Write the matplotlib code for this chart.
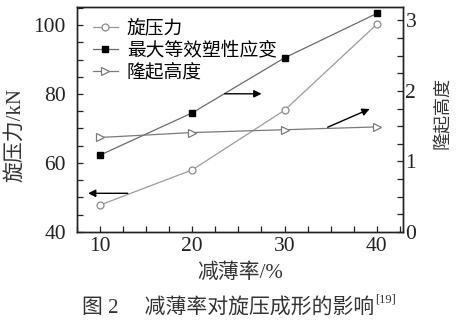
import matplotlib
matplotlib.use("Agg")
import matplotlib.pyplot as plt
from matplotlib.ticker import MultipleLocator

plt.rcParams['font.family'] = ['Liberation Serif', 'Noto Sans CJK SC']
plt.rcParams['axes.unicode_minus'] = False

# 减薄率 (%)
thinning = [10, 20, 30, 40]
# 旋压力 (kN), 左轴
spin_force = [47.8, 58.0, 75.3, 100.2]
# 最大等效塑性应变, 右轴
max_strain = [1.09, 1.69, 2.47, 3.10]
# 隆起高度, 右轴
bulge = [1.34, 1.41, 1.45, 1.49]

fig = plt.figure(figsize=(4.57, 3.23), dpi=100)
ax = fig.add_axes([0.1685, 0.282, 0.7125, 0.696])
ax2 = ax.twinx()

l1, = ax.plot(thinning, spin_force, '-', color='#9a9a9a', lw=0.9,
              marker='o', ms=5, mfc='white', mec='#8a8a8a', mew=0.9)
l2, = ax2.plot(thinning, max_strain, '-', color='#6a6a6a', lw=0.9,
               marker='s', ms=4.5, mfc='black', mec='black')
l3, = ax2.plot(thinning, bulge, '-', color='#7a7a7a', lw=0.9,
               marker='>', ms=5.5, mfc='white', mec='#7a7a7a', mew=0.9)

ax.set_xlim(7.5, 42.8)
ax.set_ylim(40, 105.2)
ax2.set_ylim(0, 3.19)

ax.xaxis.set_major_locator(MultipleLocator(10))
ax.xaxis.set_minor_locator(MultipleLocator(2.5))
ax.yaxis.set_major_locator(MultipleLocator(20))
ax.yaxis.set_minor_locator(MultipleLocator(5))
ax2.yaxis.set_major_locator(MultipleLocator(1))
ax2.yaxis.set_minor_locator(MultipleLocator(0.25))

for a in (ax, ax2):
    a.tick_params(which='both', direction='in', labelsize=15.5, colors='#222222',
                  width=0.9, length=4)
    for s in a.spines.values():
        s.set_color('#222222')
        s.set_linewidth(1.0)
ax.tick_params(axis='x', pad=4)
ax.tick_params(axis='y', pad=8)
ax2.tick_params(axis='y', pad=2)

ax.set_ylabel('旋压力/kN', fontsize=15, color='#333333')
ax.yaxis.set_label_coords(-0.16, 0.43)
ax2.set_ylabel('隆起高度', fontsize=13, color='#333333')
ax2.yaxis.set_label_coords(1.1, 0.53)
ax.set_xlabel('减薄率/%', fontsize=15, color='#333333', labelpad=5)

ax.legend([l1, l2, l3], ['旋压力', '最大等效塑性应变', '隆起高度'],
          loc='upper left', frameon=False, fontsize=13.5, handlelength=1.3,
          handletextpad=0.5, labelspacing=0.22, borderaxespad=0.2,
          bbox_to_anchor=(0.015, 0.995))

arrow = dict(arrowstyle='-|>', color='black', lw=1.0, mutation_scale=11)
ax.annotate('', xy=(8.4, 51.2), xytext=(13.3, 51.2), arrowprops=arrow)
ax2.annotate('', xy=(27.8, 1.96), xytext=(23.2, 1.96), arrowprops=arrow)
ax2.annotate('', xy=(39.5, 1.76), xytext=(34.4, 1.47), arrowprops=arrow)

# 图题, 参考文献编号作上标
cap = fig.text(82 / 457, 0.048, '图 2\u2003 减薄率对旋压成形的影响', ha='left',
               va='center', fontsize=15, color='#333333')
fig.canvas.draw()
bb = cap.get_window_extent()
fig.text(bb.x1 / 457 + 0.002, 0.073, '[19]', ha='left', va='center',
         fontsize=9, color='#333333')

fig.savefig('out.png', dpi=100)
